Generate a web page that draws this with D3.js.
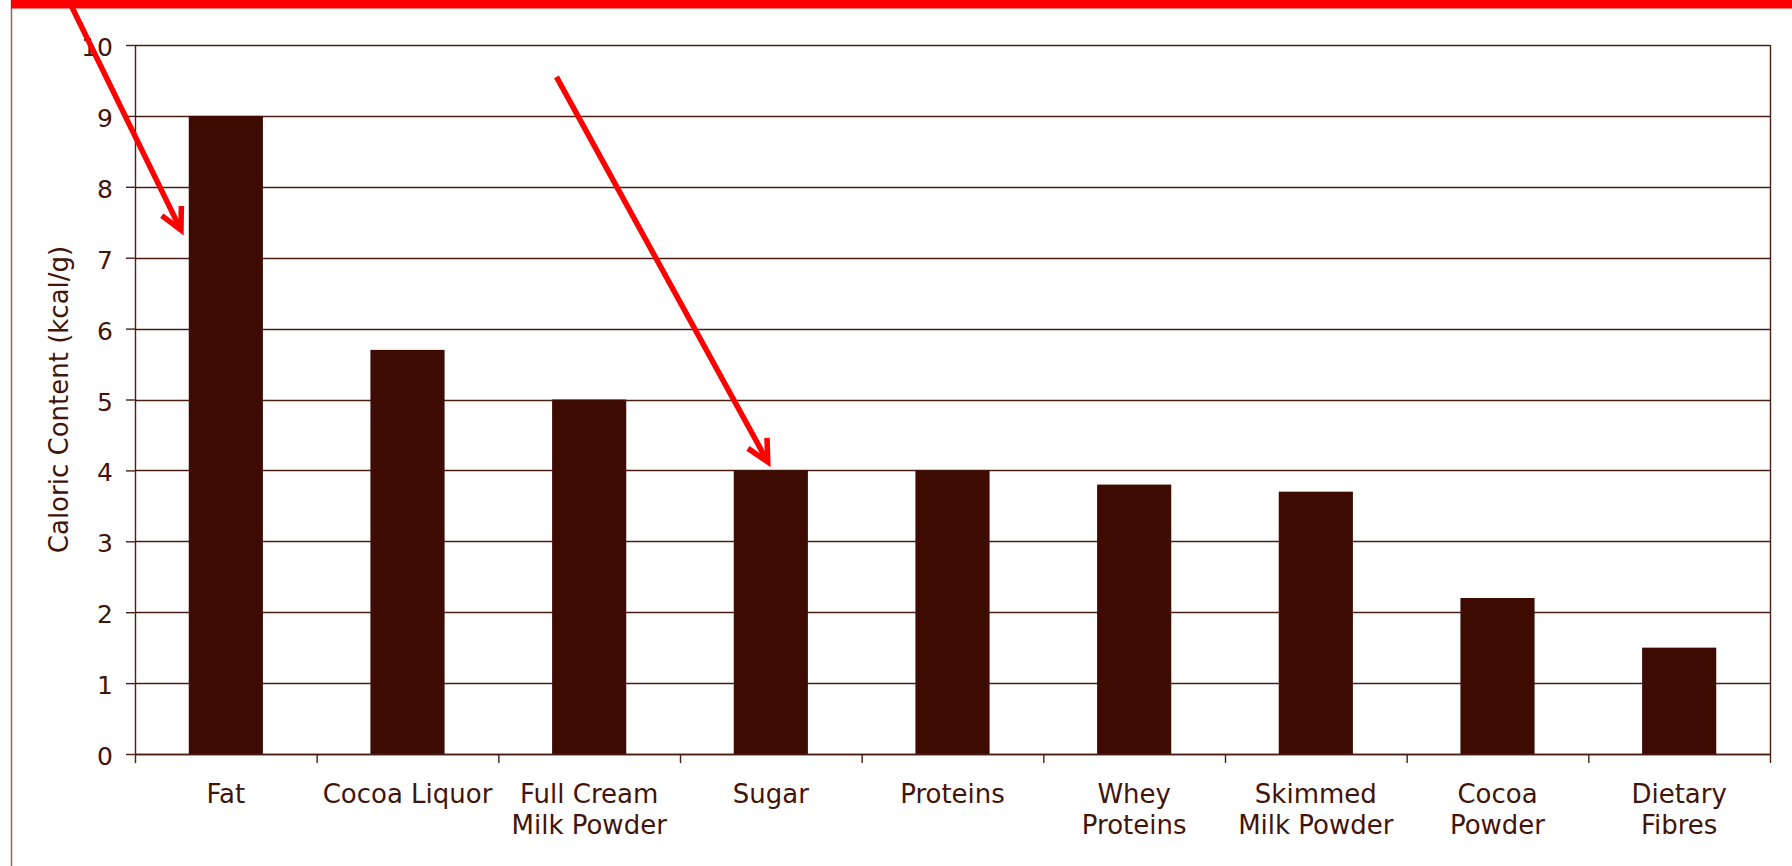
<!DOCTYPE html>
<html>
<head>
<meta charset="utf-8">
<script src="https://cdn.jsdelivr.net/npm/d3@7"></script>
<style>
  html, body { margin: 0; padding: 0; background: #ffffff; }
  svg { display: block; }
  text { font-family: "DejaVu Sans", Verdana, sans-serif; }
</style>
</head>
<body>
<svg id="chart" width="1792" height="866"></svg>
<script>
// Caloric content of chocolate ingredients (kcal per gram)
const categories = ["Fat", "Cocoa Liquor", "Full Cream Milk Powder", "Sugar", "Proteins",
  "Whey Proteins", "Skimmed Milk Powder", "Cocoa Powder", "Dietary Fibres"];
const labelLines = [["Fat"], ["Cocoa Liquor"], ["Full Cream", "Milk Powder"], ["Sugar"], ["Proteins"],
  ["Whey", "Proteins"], ["Skimmed", "Milk Powder"], ["Cocoa", "Powder"], ["Dietary", "Fibres"]];
const calories = [9.0, 5.7, 5.0, 4.0, 4.0, 3.8, 3.7, 2.2, 1.5];
const yTicks = [0, 1, 2, 3, 4, 5, 6, 7, 8, 9, 10];
const yTitle = "Caloric Content (kcal/g)";

// Highlight arrows, in (category position, value) coordinates
const arrows = [
  { from: [-0.35, 10.55], to: [0.253, 7.39] },
  { from: [2.32, 9.55], to: [3.483, 4.12] }
];

const W = 1792, H = 866;
const plot = { left: 135, right: 1770, top: 45, bottom: 754 };
const ink = "#43140a", grid = "#4a1d13", barFill = "#3e0b02";

const svg = d3.select("#chart");

const x = d3.scaleBand().domain(categories).range([plot.left, plot.right]).padding(0);
const xPos = d3.scaleLinear().domain([0, categories.length]).range([plot.left, plot.right]);
const y = d3.scaleLinear().domain([0, 10]).range([plot.bottom, plot.top]);
const barW = x.bandwidth() / 2.45;

// Slide frame: thin rule on the left, red band across the top
svg.append("line").attr("x1", 11.5).attr("x2", 11.5).attr("y1", 0).attr("y2", H)
  .attr("stroke", "#a0604e").attr("stroke-width", 1.5);
svg.append("rect").attr("x", 11).attr("y", 0).attr("width", W - 11).attr("height", 8.5)
  .attr("fill", "#ff0000");

// Horizontal gridlines
svg.append("g").selectAll("line").data(yTicks).join("line")
  .attr("x1", plot.left).attr("x2", plot.right)
  .attr("y1", d => Math.round(y(d)) + 0.5).attr("y2", d => Math.round(y(d)) + 0.5)
  .attr("stroke", grid).attr("stroke-width", 1.4);

// Right border of the plot area
svg.append("line").attr("x1", plot.right + 0.5).attr("x2", plot.right + 0.5)
  .attr("y1", plot.top).attr("y2", plot.bottom)
  .attr("stroke", grid).attr("stroke-width", 1.4);

// Bars
svg.append("g").selectAll("rect").data(calories).join("rect")
  .attr("x", (d, i) => x(categories[i]) + (x.bandwidth() - barW) / 2)
  .attr("width", barW)
  .attr("y", d => y(d))
  .attr("height", d => y(0) - y(d))
  .attr("fill", barFill);

// Y axis
const yAxis = svg.append("g").attr("transform", `translate(${plot.left},0)`)
  .call(d3.axisLeft(y).tickValues(yTicks).tickSize(9).tickSizeOuter(0).tickPadding(13));
yAxis.select(".domain").attr("stroke", grid).attr("stroke-width", 1.4);
yAxis.selectAll(".tick line").attr("stroke", grid).attr("stroke-width", 1.4);
yAxis.selectAll(".tick text").attr("fill", ink).attr("font-size", 25)
  .attr("dy", null).attr("y", 10.5)
  .style("font-family", "'DejaVu Sans', Verdana, sans-serif");

// X axis: boundary ticks between categories
const xBounds = d3.range(categories.length + 1);
const xAxis = svg.append("g").attr("transform", `translate(0,${plot.bottom})`)
  .call(d3.axisBottom(xPos).tickValues(xBounds).tickSize(9).tickSizeOuter(0).tickFormat(""));
xAxis.select(".domain").attr("stroke", grid).attr("stroke-width", 1.4);
xAxis.selectAll(".tick line").attr("stroke", grid).attr("stroke-width", 1.4);

// Category labels, centred under each bar
const labels = svg.append("g").selectAll("text").data(categories).join("text")
  .attr("x", d => x(d) + x.bandwidth() / 2)
  .attr("y", 802.5)
  .attr("text-anchor", "middle")
  .attr("font-size", 26)
  .attr("fill", ink);
labels.each(function(d, i) {
  const t = d3.select(this);
  labelLines[i].forEach((line, k) => {
    t.append("tspan").attr("x", x(d) + x.bandwidth() / 2).attr("dy", k === 0 ? 0 : 31.5)
      .text(line);
  });
});

// Y axis title
svg.append("text")
  .attr("transform", `translate(68,${(plot.top + plot.bottom) / 2}) rotate(-90)`)
  .attr("text-anchor", "middle")
  .attr("font-size", 26)
  .attr("fill", ink)
  .text(yTitle);

// Red highlight arrows
const arrowG = svg.append("g").attr("stroke", "#ff0000").attr("fill", "none")
  .attr("stroke-width", 5.5);
arrows.forEach(a => {
  const x0 = xPos(a.from[0]), y0 = y(a.from[1]);
  const x1 = xPos(a.to[0]), y1 = y(a.to[1]);
  const ang = Math.atan2(y0 - y1, x0 - x1);
  const len = 24, spread = 27 * Math.PI / 180;
  const b1 = [x1 + len * Math.cos(ang - spread), y1 + len * Math.sin(ang - spread)];
  const b2 = [x1 + len * Math.cos(ang + spread), y1 + len * Math.sin(ang + spread)];
  const back = 3;
  arrowG.append("line")
    .attr("x1", x0).attr("y1", y0)
    .attr("x2", x1 + back * Math.cos(ang)).attr("y2", y1 + back * Math.sin(ang));
  arrowG.append("path")
    .attr("d", d3.line()([b1, [x1, y1], b2]))
    .attr("stroke-linejoin", "miter").attr("stroke-miterlimit", 10);
});
</script>
</body>
</html>
